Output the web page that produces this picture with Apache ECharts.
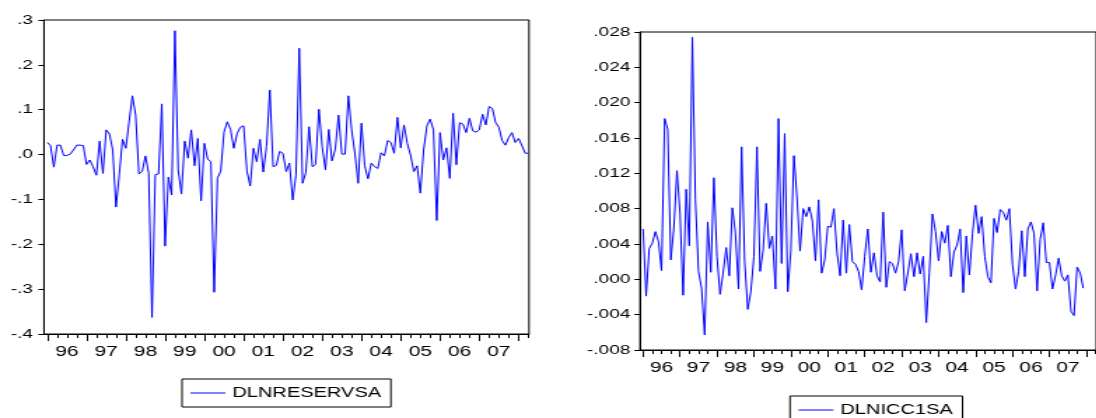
<!DOCTYPE html>
<html>
<head>
<meta charset="utf-8">
<script src="https://cdn.jsdelivr.net/npm/echarts@6/dist/echarts.min.js"></script>
<style>
  html, body { margin: 0; padding: 0; background: #fff; overflow: hidden; }
  /* the reference picture is stretched sideways, so the chart is drawn narrow and widened */
  #main { width: 783px; height: 418px; transform: scaleX(1.4); transform-origin: 0 0; }
</style>
</head>
<body>
<div id="main"></div>
<script>
// monthly, 1996M01 .. 2008M04
var dlnReservSA = [
  0.027, 0.020, -0.028, 0.021, 0.021, -0.002, -0.002, 0.001, 0.010, 0.021, 0.021, 0.020,
  -0.022, -0.012, -0.027, -0.046, 0.030, -0.042, 0.055, 0.046, 0.010, -0.117, -0.045, 0.034,
  0.014, 0.073, 0.131, 0.088, -0.043, -0.038, -0.003, -0.042, -0.363, -0.045, -0.043, 0.113,
  -0.204, -0.050, -0.090, 0.276, -0.034, -0.088, 0.030, -0.008, 0.055, -0.025, 0.036, -0.103,
  0.025, -0.010, -0.016, -0.307, -0.053, -0.037, 0.050, 0.073, 0.056, 0.014, 0.047, 0.061,
  0.064, -0.036, -0.070, 0.014, -0.016, 0.034, -0.039, 0.018, 0.144, -0.027, -0.024, 0.007,
  0.003, -0.038, -0.019, -0.101, -0.045, 0.237, -0.064, -0.040, 0.062, -0.027, -0.022, 0.101,
  0.018, -0.034, 0.056, -0.014, 0.012, 0.088, 0.001, 0.001, 0.131, 0.055, 0.003, -0.064,
  0.070, -0.025, -0.054, -0.019, -0.027, -0.031, 0.004, -0.003, 0.031, 0.027, 0.003, 0.083,
  0.015, 0.066, 0.025, -0.001, -0.038, -0.025, -0.086, 0.010, 0.064, 0.079, 0.055, -0.147,
  0.049, -0.012, 0.015, -0.053, 0.092, -0.023, 0.071, 0.068, 0.049, 0.081, 0.053, 0.050,
  0.055, 0.090, 0.066, 0.107, 0.103, 0.071, 0.061, 0.031, 0.021, 0.038, 0.049, 0.027,
  0.036, 0.021, 0.003, 0.003
];
// monthly, 1996M01 .. 2007M12
var dlnIcc1SA = [
  0.0057, -0.0019, 0.0035, 0.0041, 0.0054, 0.0043, 0.0010, 0.0182, 0.0170, 0.0022, 0.0058, 0.0123,
  0.0075, -0.0018, 0.0102, 0.0038, 0.0274, 0.0090, 0.0009, -0.0010, -0.0063, 0.0065, 0.0008, 0.0115,
  0.0026, -0.0017, 0.0007, 0.0036, 0.0004, 0.0081, 0.0052, -0.0011, 0.0150, 0.0020, -0.0034, -0.0014,
  0.0026, 0.0150, 0.0009, 0.0033, 0.0086, 0.0035, 0.0049, -0.0011, 0.0182, 0.0018, 0.0165, -0.0014,
  0.0033, 0.0140, 0.0092, 0.0032, 0.0080, 0.0071, 0.0082, 0.0066, 0.0021, 0.0090, 0.0007, 0.0022,
  0.0060, 0.0059, 0.0080, 0.0030, 0.0004, 0.0067, 0.0007, 0.0062, 0.0020, 0.0017, 0.0009, -0.0012,
  0.0026, 0.0057, 0.0008, 0.0030, 0.0004, -0.0003, 0.0076, -0.0009, 0.0020, 0.0018, 0.0007, 0.0020,
  0.0056, -0.0013, 0.0007, 0.0029, 0.0003, 0.0030, 0.0006, 0.0026, -0.0049, 0.0008, 0.0074, 0.0054,
  0.0021, 0.0054, 0.0041, 0.0061, 0.0003, 0.0031, 0.0039, 0.0057, -0.0015, 0.0049, 0.0005, 0.0052,
  0.0084, 0.0052, 0.0071, 0.0026, 0.0003, -0.0004, 0.0069, 0.0053, 0.0079, 0.0076, 0.0067, 0.0080,
  0.0017, -0.0011, 0.0009, 0.0055, 0.0003, 0.0057, 0.0065, 0.0052, -0.0013, 0.0045, 0.0064, 0.0019,
  0.0019, -0.0011, 0.0005, 0.0024, 0.0004, -0.0002, 0.0005, -0.0036, -0.0041, 0.0014, 0.0007, -0.0010
];
var yearLabels = ["96", "97", "98", "99", "00", "01", "02", "03", "04", "05", "06", "07"];
var seriesNames = ["DLNRESERVSA", "DLNICC1SA"];

var R = 1.4; // sideways stretch
var FONT = "'Liberation Sans', Arial, Helvetica, sans-serif";

// tick positions in months from 1996M01
var yearTicks = [], yearMids = [], quarterTicks = [];
for (var k = 0; k <= yearLabels.length; k++) yearTicks.push(12 * k);
for (var k = 0; k < yearLabels.length; k++) yearMids.push(12 * k + 6);
for (var m = 3; m <= 147; m += 3) if (m % 12 !== 0) quarterTicks.push(m);

function yFmt(d) {
  return function (v) {
    var s = Math.abs(v).toFixed(d).replace(/^0/, "");
    return (v < -1e-9 ? "-" : "") + s;
  };
}

function xAxes(grid) {
  return [
    {
      type: "value", gridIndex: grid, min: -1, max: 147.2,
      axisLine: { onZero: false, lineStyle: { color: "#000", width: 1 } },
      axisTick: { customValues: yearTicks, length: 7, lineStyle: { color: "#000" } },
      axisLabel: {
        customValues: yearMids, margin: 10, fontSize: 15, color: "#000", fontFamily: FONT,
        formatter: function (v) { return yearLabels[Math.round((v - 6) / 12)]; }
      },
      splitLine: { show: false }
    },
    {
      type: "value", gridIndex: grid, min: -1, max: 147.2, position: "bottom",
      axisLine: { show: false, onZero: false },
      axisTick: { customValues: quarterTicks, length: 4, lineStyle: { color: "#000" } },
      axisLabel: { show: false },
      splitLine: { show: false }
    }
  ];
}

function yAxis(grid, min, max, step, d, margin) {
  return {
    type: "value", gridIndex: grid, min: min, max: max, interval: step,
    axisLine: { show: true, onZero: false, lineStyle: { color: "#000" } },
    axisTick: { show: true, length: 4, lineStyle: { color: "#000" } },
    axisLabel: { formatter: yFmt(d), fontSize: 13.5, color: "#000", fontFamily: FONT, margin: margin },
    splitLine: { show: false }
  };
}

function legend(name, left, top) {
  return {
    data: [{ name: name, icon: "rect" }], left: left, top: top,
    itemWidth: 25, itemHeight: 1, itemGap: 0,
    padding: [6, 7, 6, 6],
    borderColor: "#000", borderWidth: 1, borderRadius: 0,
    textStyle: { fontSize: 14.3, color: "#000", fontFamily: FONT, lineHeight: 16 }
  };
}

var chart = echarts.init(document.getElementById("main"), null, { renderer: "canvas" });
var option = {
  animation: false,
  backgroundColor: "#fff",
  grid: [
    { left: 44 / R, top: 20, width: 485 / R, height: 314, show: true, borderColor: "#000", borderWidth: 1, backgroundColor: "transparent" },
    { left: 640 / R, top: 32, width: 467 / R, height: 318, show: true, borderColor: "#000", borderWidth: 1, backgroundColor: "transparent" }
  ],
  xAxis: xAxes(0).concat(xAxes(1)),
  yAxis: [
    yAxis(0, -0.4, 0.3, 0.1, 1, 8),
    yAxis(1, -0.008, 0.028, 0.004, 3, 7)
  ],
  legend: [
    legend(seriesNames[0], 182 / R, 379),
    legend(seriesNames[1], 790 / R, 396)
  ],
  series: [
    {
      name: seriesNames[0], type: "line", xAxisIndex: 0, yAxisIndex: 0,
      data: dlnReservSA.map(function (v, i) { return [i, v]; }),
      symbol: "none", lineStyle: { color: "#0000ff", width: 1 }, itemStyle: { color: "#0000ff" }
    },
    {
      name: seriesNames[1], type: "line", xAxisIndex: 2, yAxisIndex: 1,
      data: dlnIcc1SA.map(function (v, i) { return [i, v]; }),
      symbol: "none", lineStyle: { color: "#0000ff", width: 1 }, itemStyle: { color: "#0000ff" }
    }
  ]
};
chart.setOption(option);
</script>
</body>
</html>
